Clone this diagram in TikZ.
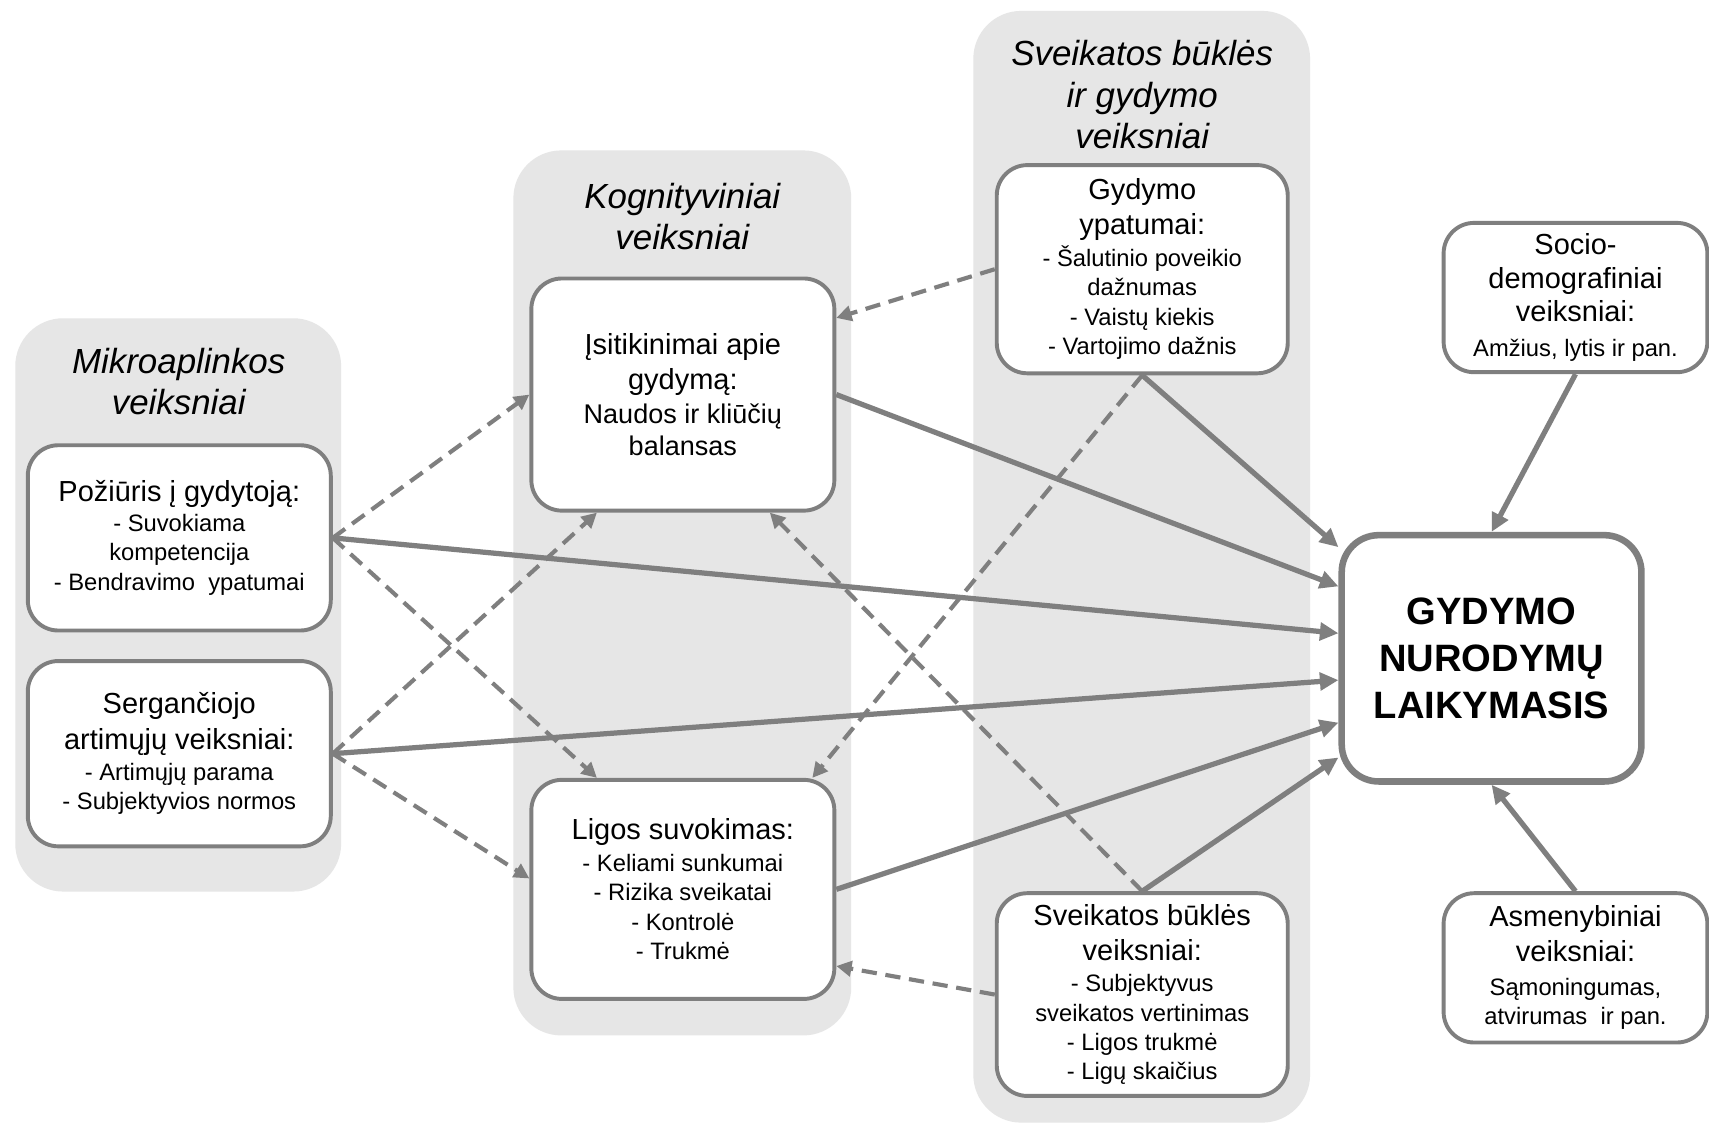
\documentclass[tikz,border=0pt]{standalone}
\usepackage{fontspec}
\setmainfont{Liberation Sans}
\usetikzlibrary{arrows.meta,calc,backgrounds}
\definecolor{lg}{HTML}{7F7F7F}
\definecolor{bgc}{HTML}{E6E6E6}
\lineskiplimit=-100pt
\newcommand{\mfont}{\fontsize{13.3}{16}\selectfont}
\newcommand{\sfont}{\fontsize{10.9}{13.5}\selectfont}
\newcommand{\nfont}{\fontsize{12.4}{14.5}\selectfont}
\begin{document}
\begin{tikzpicture}[x=0.5pt,y=-0.5pt,
  box/.style={draw=lg, line width=1.8pt, fill=white, rounded corners=14pt, inner sep=0pt, align=center, font=\sfont},
  grp/.style={fill=bgc, rounded corners=22pt},
  ttl/.style={font=\fontsize{16}{19}\selectfont\itshape, align=center, inner sep=0pt},
  dasharrow/.style={draw=lg, line width=1.9pt, dash pattern=on 7pt off 4pt, -{Triangle[length=7pt,width=7pt]}},
  solarrow/.style={draw=lg, line width=2.4pt, -{Triangle[length=8.5pt,width=8pt]}}
]
\useasboundingbox (0,0) rectangle (1568,1032);

% boxes
\node[box, minimum width=139pt, minimum height=85pt] (poz) at (164.5,493.5)
  {{\mfont Požiūris į gydytoją:}\\ - Suvokiama\\ kompetencija\\ - Bendravimo\ \ ypatumai};
\node[box, minimum width=139pt, minimum height=85pt] (serg) at (164.5,691.5)
  {{\mfont Sergančiojo}\\[3pt] {\mfont artimųjų veiksniai:}\\[0.5pt] - Artimųjų parama\\ - Subjektyvios normos};
\node[box, minimum width=139pt, minimum height=106.5pt] (isit) at (626.5,362)
  {{\mfont Įsitikinimai apie}\\[2.5pt] {\mfont gydymą:}\\[2.5pt] {\nfont Naudos ir kliūčių}\\[1pt] {\nfont balansas}};
\node[box, minimum width=139pt, minimum height=100.5pt] (ligos) at (626.5,816)
  {{\mfont Ligos suvokimas:}\\[1pt] - Keliami sunkumai\\ - Rizika sveikatai\\ - Kontrolė\\ - Trukmė};
\node[box, minimum width=133.5pt, minimum height=95.5pt] (gyd) at (1048,247)
  {{\mfont Gydymo}\\[2.5pt] {\mfont ypatumai:}\\[1pt] - Šalutinio poveikio\\ dažnumas\\ - Vaistų kiekis\\ - Vartojimo dažnis};
\node[box, minimum width=133.5pt, minimum height=93pt] (sveik) at (1048,912.5)
  {{\mfont Sveikatos būklės}\\[2.5pt] {\mfont veiksniai:}\\[1pt] - Subjektyvus\\ sveikatos vertinimas\\ - Ligos trukmė\\ - Ligų skaičius};
\node[box, minimum width=121pt, minimum height=68.5pt] (socio) at (1445.5,273)
  {{\mfont Socio-}\\[2pt] {\mfont demografiniai}\\[2pt] {\mfont veiksniai:}\\[2.5pt] Amžius, lytis ir pan.};
\node[box, minimum width=121pt, minimum height=68.5pt] (asm) at (1445.5,888)
  {{\mfont Asmenybiniai}\\[2.5pt] {\mfont veiksniai:}\\[2pt] Sąmoningumas,\\ atvirumas\ \ ir pan.};
\node[box, line width=3pt, rounded corners=17pt, minimum width=137.5pt, minimum height=113pt,
      font=\fontsize{17.5}{21.5}\selectfont\bfseries] (gnl) at (1368.5,604)
  {GYDYMO\\ NURODYMŲ\\ LAIKYMASIS};

% group titles
\node[ttl] (t1) at (164,350) {Mikroaplinkos\\ veiksniai};
\node[ttl] (t2) at (626,198.5) {Kognityviniai\\ veiksniai};
\node[ttl] (t3) at (1048,87) {Sveikatos būklės\\ ir gydymo\\ veiksniai};

% group backgrounds
\begin{scope}[on background layer]
  \fill[white] (0,0) rectangle (1568,1032);
  \fill[grp] (14,292) rectangle (313,818);
  \fill[grp] (471,138) rectangle (781,950);
  \fill[grp] (893,10) rectangle (1202,1030);
\end{scope}

% dashed connectors
\draw[dasharrow] (poz.east) -- (isit.west);
\draw[dasharrow] (poz.east) -- ($(ligos.north west)+(62,0)$);
\draw[dasharrow] (serg.east) -- ($(isit.south west)+(62,0)$);
\draw[dasharrow] (serg.east) -- ($(ligos.west)+(0,-10)$);
\draw[dasharrow] (gyd.west) -- ($(isit.north east)+(0,38)$);
\draw[dasharrow] (gyd.south) -- ($(ligos.north east)+(-22,0)$);
\draw[dasharrow] (sveik.north) -- ($(isit.south east)+(-61,0)$);
\draw[dasharrow] (sveik.west) -- ($(ligos.south east)+(0,-32)$);

% solid connectors
\draw[solarrow] (gyd.south) -- ($(gnl.north west)+(0,14)$);
\draw[solarrow] (isit.east) -- ($(gnl.north west)+(0,50)$);
\draw[solarrow] (poz.east) -- ($(gnl.north west)+(0,93)$);
\draw[solarrow] (serg.east) -- ($(gnl.north west)+(0,136)$);
\draw[solarrow] (ligos.east) -- ($(gnl.north west)+(0,175)$);
\draw[solarrow] (sveik.north) -- ($(gnl.north west)+(0,207)$);
\draw[solarrow] (socio.south) -- (gnl.north);
\draw[solarrow] (asm.north) -- (gnl.south);
\end{tikzpicture}
\end{document}
